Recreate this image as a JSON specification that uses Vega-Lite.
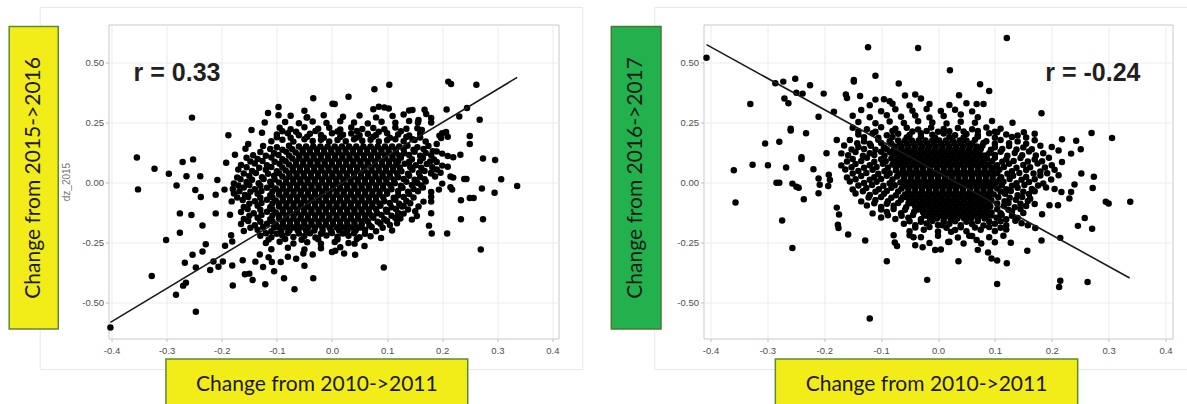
{
"$schema": "https://vega.github.io/schema/vega-lite/v6.json",
"background": "white",
"padding": {"left": 7.5, "top": 5.5, "right": 0, "bottom": 0},
"bounds": "flush",
"spacing": 145,
"config": {
 "view": {"stroke": "#c8c8c8", "strokeWidth": 1},
 "axis": {"grid": true, "gridColor": "#ebebeb", "gridWidth": 1, "domain": false, "ticks": true, "tickColor": "#bdbdbd", "tickSize": 3, "labelFont": "Liberation Sans", "labelFontSize": 9.5, "labelColor": "#4d4d4d", "titleFont": "Liberation Sans", "titleFontWeight": "normal", "titleFontSize": 10, "titleColor": "#777777"},
 "axisX": {"labelPadding": 4},
 "axisY": {"labelPadding": 2}
},
"datasets": {
 "fitL": [{"x": -0.402, "y": -0.583}, {"x": 0.336, "y": 0.4375}],
 "fitR": [{"x": -0.407, "y": 0.574}, {"x": 0.337, "y": -0.398}],
 "left": [
{"x":-0.402,"y":-0.604},{"x":-0.354,"y":0.104},{"x":-0.352,"y":-0.029},{"x":-0.322,"y":0.057},{"x":-0.327,"y":-0.39},{"x":-0.301,"y":-0.24},{"x":-0.296,"y":0.036},{"x":-0.282,"y":-0.013},{"x":-0.283,"y":-0.468},{"x":-0.271,"y":0.085},{"x":-0.264,"y":0.026},{"x":-0.254,"y":0.27},{"x":-0.252,"y":0.096},{"x":-0.248,"y":-0.032},{"x":-0.239,"y":0.026},{"x":-0.238,"y":-0.061},{"x":-0.276,"y":-0.129},{"x":-0.255,"y":-0.136},{"x":-0.276,"y":-0.21},{"x":-0.235,"y":-0.179},{"x":-0.229,"y":-0.258},{"x":-0.235,"y":-0.288},{"x":-0.253,"y":-0.301},{"x":-0.267,"y":-0.335},{"x":-0.247,"y":-0.354},{"x":-0.265,"y":-0.418},{"x":-0.27,"y":-0.43},{"x":-0.247,"y":-0.539},{"x":-0.215,"y":-0.329},{"x":-0.221,"y":-0.365},{"x":-0.206,"y":-0.351},{"x":-0.198,"y":-0.329},{"x":-0.211,"y":-0.129},{"x":-0.211,"y":-0.051},{"x":-0.208,"y":0.01},{"x":-0.194,"y":-0.264},{"x":-0.181,"y":-0.346},{"x":-0.18,"y":-0.429},{"x":-0.188,"y":0.197},{"x":-0.192,"y":0.082},{"x":-0.181,"y":-0.246},{"x":-0.183,"y":-0.22},{"x":-0.195,"y":-0.03},{"x":-0.185,"y":-0.135},{"x":-0.146,"y":0.218},{"x":-0.157,"y":0.14},{"x":-0.176,"y":0.115},{"x":-0.152,"y":0.16},{"x":-0.127,"y":0.207},{"x":-0.116,"y":0.289},{"x":-0.097,"y":0.314},{"x":-0.122,"y":0.25},{"x":-0.097,"y":0.28},{"x":-0.05,"y":0.299},{"x":-0.034,"y":0.351},{"x":0.001,"y":0.328},{"x":-0.046,"y":0.27},{"x":-0.121,"y":-0.424},{"x":-0.068,"y":-0.445},{"x":-0.034,"y":-0.399},{"x":-0.087,"y":-0.399},{"x":-0.144,"y":-0.407},{"x":-0.15,"y":-0.38},{"x":-0.158,"y":-0.383},{"x":-0.162,"y":-0.324},{"x":-0.139,"y":-0.33},{"x":-0.131,"y":-0.3},{"x":-0.109,"y":-0.332},{"x":-0.093,"y":-0.332},{"x":-0.105,"y":-0.37},{"x":-0.08,"y":-0.31},{"x":-0.052,"y":-0.296},{"x":-0.035,"y":-0.3},{"x":0.0,"y":-0.29},
{"x":0.336,"y":-0.015},{"x":0.307,"y":0.013},{"x":0.295,"y":-0.043},{"x":0.296,"y":0.093},{"x":0.274,"y":0.1},{"x":0.27,"y":-0.279},{"x":0.274,"y":-0.153},{"x":0.272,"y":-0.025},{"x":0.268,"y":0.261},{"x":0.262,"y":0.407},{"x":0.211,"y":0.42},{"x":0.216,"y":0.41},{"x":0.245,"y":0.31},{"x":0.231,"y":0.275},{"x":0.208,"y":0.304},{"x":0.25,"y":0.193},{"x":0.25,"y":0.16},{"x":0.24,"y":0.014},{"x":0.244,"y":0.014},{"x":0.25,"y":-0.065},{"x":0.257,"y":-0.065},{"x":0.234,"y":-0.074},{"x":0.234,"y":-0.153},{"x":0.209,"y":-0.213},{"x":0.181,"y":-0.213},{"x":0.176,"y":-0.18},{"x":0.18,"y":-0.128},{"x":0.094,"y":-0.354},{"x":0.042,"y":-0.301},{"x":0.022,"y":-0.296},{"x":0.006,"y":-0.285},{"x":0.059,"y":-0.265},{"x":0.041,"y":-0.255},{"x":0.089,"y":-0.232},{"x":0.104,"y":0.407},{"x":0.077,"y":0.388},{"x":0.03,"y":0.357},{"x":0.005,"y":0.327},{"x":0.085,"y":0.315},{"x":0.095,"y":0.312},{"x":0.103,"y":0.308},{"x":0.075,"y":0.305},{"x":0.168,"y":0.303},{"x":0.171,"y":0.285},{"x":0.18,"y":0.25},{"x":0.14,"y":0.3},{"x":0.146,"y":0.302},{"x":0.156,"y":0.25},{"x":0.2,"y":0.205},{"x":0.207,"y":0.21},{"x":0.195,"y":0.195},{"x":0.21,"y":0.19},
{"x":0.18,"y":0.268},{"x":0.157,"y":0.26},{"x":0.163,"y":0.218},{"x":0.146,"y":0.18},{"x":0.198,"y":0.185},{"x":0.19,"y":0.16},{"x":0.183,"y":0.13},{"x":0.2,"y":0.12},{"x":0.21,"y":0.11},{"x":0.22,"y":0.105},{"x":0.233,"y":0.115},{"x":0.19,"y":0.085},{"x":0.2,"y":0.07},{"x":0.21,"y":0.065},{"x":0.215,"y":0.025},{"x":0.22,"y":0.02},{"x":0.18,"y":0.04},{"x":0.187,"y":0.025},{"x":0.197,"y":0.04},{"x":0.215,"y":-0.02},{"x":0.218,"y":-0.03},{"x":0.2,"y":-0.005},{"x":0.194,"y":-0.03},{"x":0.18,"y":-0.04},{"x":0.18,"y":-0.06},{"x":0.18,"y":-0.08},{"x":0.166,"y":-0.08},{"x":0.157,"y":-0.1},{"x":0.151,"y":-0.12},{"x":0.154,"y":-0.14},{"x":0.145,"y":-0.155},{"x":0.127,"y":-0.1},{"x":0.13,"y":-0.13},{"x":0.124,"y":-0.15},{"x":0.118,"y":-0.17},{"x":0.109,"y":-0.2},
{"x":-0.11,"y":0.172},{"x":-0.09,"y":0.178},{"x":-0.07,"y":0.17},{"x":-0.05,"y":0.18},{"x":-0.035,"y":0.173},{"x":-0.02,"y":0.178},{"x":-0.005,"y":0.171},{"x":0.01,"y":0.177},{"x":0.025,"y":0.172},{"x":0.04,"y":0.18},{"x":0.055,"y":0.174},{"x":0.07,"y":0.178},{"x":0.085,"y":0.171},{"x":0.1,"y":0.176},{"x":0.115,"y":0.18},{"x":0.13,"y":0.172},{"x":0.15,"y":0.177},{"x":0.17,"y":0.171},
{"x":-0.1,"y":0.2},{"x":-0.08,"y":0.205},{"x":-0.06,"y":0.197},{"x":-0.04,"y":0.203},{"x":-0.02,"y":0.198},{"x":0.0,"y":0.205},{"x":0.02,"y":0.199},{"x":0.035,"y":0.204},{"x":0.05,"y":0.197},{"x":0.065,"y":0.203},{"x":0.08,"y":0.198},{"x":0.1,"y":0.205},{"x":0.12,"y":0.2},{"x":0.14,"y":0.196},{"x":0.16,"y":0.204},
{"x":-0.095,"y":0.228},{"x":-0.075,"y":0.222},{"x":-0.05,"y":0.23},{"x":-0.025,"y":0.224},{"x":-0.005,"y":0.228},{"x":0.015,"y":0.221},{"x":0.035,"y":0.229},{"x":0.055,"y":0.223},{"x":0.075,"y":0.227},{"x":0.095,"y":0.222},{"x":0.115,"y":0.229},{"x":0.135,"y":0.224},{"x":0.155,"y":0.226},
{"x":-0.085,"y":0.252},{"x":-0.06,"y":0.247},{"x":-0.035,"y":0.254},{"x":-0.01,"y":0.248},{"x":0.015,"y":0.255},{"x":0.04,"y":0.25},{"x":0.065,"y":0.246},{"x":0.09,"y":0.253},{"x":0.115,"y":0.249},{"x":0.14,"y":0.256},
{"x":-0.075,"y":0.278},{"x":-0.045,"y":0.272},{"x":-0.015,"y":0.28},{"x":0.02,"y":0.274},{"x":0.05,"y":0.279},{"x":0.08,"y":0.271},{"x":0.11,"y":0.277},{"x":0.13,"y":0.283},
{"x":-0.1,"y":0.188},{"x":-0.075,"y":0.186},{"x":-0.045,"y":0.19},{"x":-0.015,"y":0.186},{"x":0.015,"y":0.189},{"x":0.045,"y":0.187},{"x":0.075,"y":0.19},{"x":0.105,"y":0.186},{"x":0.135,"y":0.189},{"x":0.16,"y":0.187},
{"x":-0.09,"y":0.213},{"x":-0.065,"y":0.211},{"x":-0.03,"y":0.214},{"x":0.01,"y":0.212},{"x":0.045,"y":0.214},{"x":0.085,"y":0.211},{"x":0.125,"y":0.213},
{"x":-0.06,"y":0.15},{"x":-0.047,"y":0.15},{"x":-0.034,"y":0.15},{"x":-0.021,"y":0.15},{"x":-0.008,"y":0.15},{"x":0.005,"y":0.15},{"x":0.018,"y":0.15},{"x":0.031,"y":0.15},{"x":0.044,"y":0.15},{"x":0.057,"y":0.15},{"x":0.07,"y":0.15},{"x":0.083,"y":0.15},{"x":0.096,"y":0.15},{"x":0.109,"y":0.15},{"x":0.122,"y":0.15},
{"x":-0.066,"y":0.125},{"x":-0.053,"y":0.125},{"x":-0.04,"y":0.125},{"x":-0.027,"y":0.125},{"x":-0.014,"y":0.125},{"x":-0.001,"y":0.125},{"x":0.012,"y":0.125},{"x":0.025,"y":0.125},{"x":0.038,"y":0.125},{"x":0.051,"y":0.125},{"x":0.064,"y":0.125},{"x":0.077,"y":0.125},{"x":0.09,"y":0.125},{"x":0.103,"y":0.125},{"x":0.116,"y":0.125},
{"x":-0.072,"y":0.1},{"x":-0.059,"y":0.1},{"x":-0.046,"y":0.1},{"x":-0.033,"y":0.1},{"x":-0.02,"y":0.1},{"x":-0.007,"y":0.1},{"x":0.006,"y":0.1},{"x":0.019,"y":0.1},{"x":0.032,"y":0.1},{"x":0.045,"y":0.1},{"x":0.058,"y":0.1},{"x":0.071,"y":0.1},{"x":0.084,"y":0.1},{"x":0.097,"y":0.1},{"x":0.11,"y":0.1},
{"x":-0.078,"y":0.075},{"x":-0.065,"y":0.075},{"x":-0.052,"y":0.075},{"x":-0.039,"y":0.075},{"x":-0.026,"y":0.075},{"x":-0.013,"y":0.075},{"x":0.0,"y":0.075},{"x":0.013,"y":0.075},{"x":0.026,"y":0.075},{"x":0.039,"y":0.075},{"x":0.052,"y":0.075},{"x":0.065,"y":0.075},{"x":0.078,"y":0.075},{"x":0.091,"y":0.075},{"x":0.104,"y":0.075},{"x":0.117,"y":0.075},
{"x":-0.084,"y":0.05},{"x":-0.071,"y":0.05},{"x":-0.058,"y":0.05},{"x":-0.045,"y":0.05},{"x":-0.032,"y":0.05},{"x":-0.019,"y":0.05},{"x":-0.006,"y":0.05},{"x":0.007,"y":0.05},{"x":0.02,"y":0.05},{"x":0.033,"y":0.05},{"x":0.046,"y":0.05},{"x":0.059,"y":0.05},{"x":0.072,"y":0.05},{"x":0.085,"y":0.05},{"x":0.098,"y":0.05},{"x":0.111,"y":0.05},
{"x":-0.09,"y":0.025},{"x":-0.077,"y":0.025},{"x":-0.064,"y":0.025},{"x":-0.051,"y":0.025},{"x":-0.038,"y":0.025},{"x":-0.025,"y":0.025},{"x":-0.012,"y":0.025},{"x":0.001,"y":0.025},{"x":0.014,"y":0.025},{"x":0.027,"y":0.025},{"x":0.04,"y":0.025},{"x":0.053,"y":0.025},{"x":0.066,"y":0.025},{"x":0.079,"y":0.025},{"x":0.092,"y":0.025},{"x":0.105,"y":0.025},
{"x":-0.096,"y":0.0},{"x":-0.083,"y":0.0},{"x":-0.07,"y":0.0},{"x":-0.057,"y":0.0},{"x":-0.044,"y":0.0},{"x":-0.031,"y":0.0},{"x":-0.018,"y":0.0},{"x":-0.005,"y":0.0},{"x":0.008,"y":0.0},{"x":0.021,"y":0.0},{"x":0.034,"y":0.0},{"x":0.047,"y":0.0},{"x":0.06,"y":0.0},{"x":0.073,"y":0.0},{"x":0.086,"y":0.0},{"x":0.099,"y":0.0},
{"x":-0.102,"y":-0.025},{"x":-0.089,"y":-0.025},{"x":-0.076,"y":-0.025},{"x":-0.063,"y":-0.025},{"x":-0.05,"y":-0.025},{"x":-0.037,"y":-0.025},{"x":-0.024,"y":-0.025},{"x":-0.011,"y":-0.025},{"x":0.002,"y":-0.025},{"x":0.015,"y":-0.025},{"x":0.028,"y":-0.025},{"x":0.041,"y":-0.025},{"x":0.054,"y":-0.025},{"x":0.067,"y":-0.025},{"x":0.08,"y":-0.025},{"x":0.093,"y":-0.025},
{"x":-0.096,"y":-0.05},{"x":-0.083,"y":-0.05},{"x":-0.07,"y":-0.05},{"x":-0.057,"y":-0.05},{"x":-0.044,"y":-0.05},{"x":-0.031,"y":-0.05},{"x":-0.018,"y":-0.05},{"x":-0.005,"y":-0.05},{"x":0.008,"y":-0.05},{"x":0.021,"y":-0.05},{"x":0.034,"y":-0.05},{"x":0.047,"y":-0.05},{"x":0.06,"y":-0.05},{"x":0.073,"y":-0.05},{"x":0.086,"y":-0.05},
{"x":-0.102,"y":-0.075},{"x":-0.089,"y":-0.075},{"x":-0.076,"y":-0.075},{"x":-0.063,"y":-0.075},{"x":-0.05,"y":-0.075},{"x":-0.037,"y":-0.075},{"x":-0.024,"y":-0.075},{"x":-0.011,"y":-0.075},{"x":0.002,"y":-0.075},{"x":0.015,"y":-0.075},{"x":0.028,"y":-0.075},{"x":0.041,"y":-0.075},{"x":0.054,"y":-0.075},{"x":0.067,"y":-0.075},{"x":0.08,"y":-0.075},
{"x":-0.096,"y":-0.1},{"x":-0.083,"y":-0.1},{"x":-0.07,"y":-0.1},{"x":-0.057,"y":-0.1},{"x":-0.044,"y":-0.1},{"x":-0.031,"y":-0.1},{"x":-0.018,"y":-0.1},{"x":-0.005,"y":-0.1},{"x":0.008,"y":-0.1},{"x":0.021,"y":-0.1},{"x":0.034,"y":-0.1},{"x":0.047,"y":-0.1},{"x":0.06,"y":-0.1},{"x":0.073,"y":-0.1},
{"x":-0.102,"y":-0.125},{"x":-0.089,"y":-0.125},{"x":-0.076,"y":-0.125},{"x":-0.063,"y":-0.125},{"x":-0.05,"y":-0.125},{"x":-0.037,"y":-0.125},{"x":-0.024,"y":-0.125},{"x":-0.011,"y":-0.125},{"x":0.002,"y":-0.125},{"x":0.015,"y":-0.125},{"x":0.028,"y":-0.125},{"x":0.041,"y":-0.125},{"x":0.054,"y":-0.125},{"x":0.067,"y":-0.125},
{"x":-0.096,"y":-0.15},{"x":-0.083,"y":-0.15},{"x":-0.07,"y":-0.15},{"x":-0.057,"y":-0.15},{"x":-0.044,"y":-0.15},{"x":-0.031,"y":-0.15},{"x":-0.018,"y":-0.15},{"x":-0.005,"y":-0.15},{"x":0.008,"y":-0.15},{"x":0.021,"y":-0.15},{"x":0.034,"y":-0.15},{"x":0.047,"y":-0.15},{"x":0.06,"y":-0.15},
{"x":-0.102,"y":-0.175},{"x":-0.089,"y":-0.175},{"x":-0.076,"y":-0.175},{"x":-0.063,"y":-0.175},{"x":-0.05,"y":-0.175},{"x":-0.037,"y":-0.175},{"x":-0.024,"y":-0.175},{"x":-0.011,"y":-0.175},{"x":0.002,"y":-0.175},{"x":0.015,"y":-0.175},{"x":0.028,"y":-0.175},{"x":0.041,"y":-0.175},{"x":0.054,"y":-0.175},
{"x":-0.092,"y":-0.2},{"x":-0.077,"y":-0.2},{"x":-0.062,"y":-0.2},{"x":-0.047,"y":-0.2},{"x":-0.032,"y":-0.2},{"x":-0.017,"y":-0.2},{"x":-0.002,"y":-0.2},{"x":0.013,"y":-0.2},{"x":0.028,"y":-0.2},{"x":0.043,"y":-0.2},
{"x":-0.0535,"y":0.1375},{"x":-0.0405,"y":0.1375},{"x":-0.0275,"y":0.1375},{"x":-0.0145,"y":0.1375},{"x":-0.0015,"y":0.1375},{"x":0.0115,"y":0.1375},{"x":0.0245,"y":0.1375},{"x":0.0375,"y":0.1375},{"x":0.0505,"y":0.1375},{"x":0.0635,"y":0.1375},{"x":0.0765,"y":0.1375},{"x":0.0895,"y":0.1375},{"x":0.1025,"y":0.1375},{"x":0.1155,"y":0.1375},
{"x":-0.0595,"y":0.1125},{"x":-0.0465,"y":0.1125},{"x":-0.0335,"y":0.1125},{"x":-0.0205,"y":0.1125},{"x":-0.0075,"y":0.1125},{"x":0.0055,"y":0.1125},{"x":0.0185,"y":0.1125},{"x":0.0315,"y":0.1125},{"x":0.0445,"y":0.1125},{"x":0.0575,"y":0.1125},{"x":0.0705,"y":0.1125},{"x":0.0835,"y":0.1125},{"x":0.0965,"y":0.1125},{"x":0.1095,"y":0.1125},
{"x":-0.0655,"y":0.0875},{"x":-0.0525,"y":0.0875},{"x":-0.0395,"y":0.0875},{"x":-0.0265,"y":0.0875},{"x":-0.0135,"y":0.0875},{"x":-0.0005,"y":0.0875},{"x":0.0125,"y":0.0875},{"x":0.0255,"y":0.0875},{"x":0.0385,"y":0.0875},{"x":0.0515,"y":0.0875},{"x":0.0645,"y":0.0875},{"x":0.0775,"y":0.0875},{"x":0.0905,"y":0.0875},{"x":0.1035,"y":0.0875},{"x":0.1165,"y":0.0875},
{"x":-0.0715,"y":0.0625},{"x":-0.0585,"y":0.0625},{"x":-0.0455,"y":0.0625},{"x":-0.0325,"y":0.0625},{"x":-0.0195,"y":0.0625},{"x":-0.0065,"y":0.0625},{"x":0.0065,"y":0.0625},{"x":0.0195,"y":0.0625},{"x":0.0325,"y":0.0625},{"x":0.0455,"y":0.0625},{"x":0.0585,"y":0.0625},{"x":0.0715,"y":0.0625},{"x":0.0845,"y":0.0625},{"x":0.0975,"y":0.0625},{"x":0.1105,"y":0.0625},
{"x":-0.0775,"y":0.0375},{"x":-0.0645,"y":0.0375},{"x":-0.0515,"y":0.0375},{"x":-0.0385,"y":0.0375},{"x":-0.0255,"y":0.0375},{"x":-0.0125,"y":0.0375},{"x":0.0005,"y":0.0375},{"x":0.0135,"y":0.0375},{"x":0.0265,"y":0.0375},{"x":0.0395,"y":0.0375},{"x":0.0525,"y":0.0375},{"x":0.0655,"y":0.0375},{"x":0.0785,"y":0.0375},{"x":0.0915,"y":0.0375},{"x":0.1045,"y":0.0375},
{"x":-0.0835,"y":0.0125},{"x":-0.0705,"y":0.0125},{"x":-0.0575,"y":0.0125},{"x":-0.0445,"y":0.0125},{"x":-0.0315,"y":0.0125},{"x":-0.0185,"y":0.0125},{"x":-0.0055,"y":0.0125},{"x":0.0075,"y":0.0125},{"x":0.0205,"y":0.0125},{"x":0.0335,"y":0.0125},{"x":0.0465,"y":0.0125},{"x":0.0595,"y":0.0125},{"x":0.0725,"y":0.0125},{"x":0.0855,"y":0.0125},{"x":0.0985,"y":0.0125},
{"x":-0.0895,"y":-0.0125},{"x":-0.0765,"y":-0.0125},{"x":-0.0635,"y":-0.0125},{"x":-0.0505,"y":-0.0125},{"x":-0.0375,"y":-0.0125},{"x":-0.0245,"y":-0.0125},{"x":-0.0115,"y":-0.0125},{"x":0.0015,"y":-0.0125},{"x":0.0145,"y":-0.0125},{"x":0.0275,"y":-0.0125},{"x":0.0405,"y":-0.0125},{"x":0.0535,"y":-0.0125},{"x":0.0665,"y":-0.0125},{"x":0.0795,"y":-0.0125},{"x":0.0925,"y":-0.0125},
{"x":-0.0955,"y":-0.0375},{"x":-0.0825,"y":-0.0375},{"x":-0.0695,"y":-0.0375},{"x":-0.0565,"y":-0.0375},{"x":-0.0435,"y":-0.0375},{"x":-0.0305,"y":-0.0375},{"x":-0.0175,"y":-0.0375},{"x":-0.0045,"y":-0.0375},{"x":0.0085,"y":-0.0375},{"x":0.0215,"y":-0.0375},{"x":0.0345,"y":-0.0375},{"x":0.0475,"y":-0.0375},{"x":0.0605,"y":-0.0375},{"x":0.0735,"y":-0.0375},{"x":0.0865,"y":-0.0375},
{"x":-0.0895,"y":-0.0625},{"x":-0.0765,"y":-0.0625},{"x":-0.0635,"y":-0.0625},{"x":-0.0505,"y":-0.0625},{"x":-0.0375,"y":-0.0625},{"x":-0.0245,"y":-0.0625},{"x":-0.0115,"y":-0.0625},{"x":0.0015,"y":-0.0625},{"x":0.0145,"y":-0.0625},{"x":0.0275,"y":-0.0625},{"x":0.0405,"y":-0.0625},{"x":0.0535,"y":-0.0625},{"x":0.0665,"y":-0.0625},{"x":0.0795,"y":-0.0625},
{"x":-0.0955,"y":-0.0875},{"x":-0.0825,"y":-0.0875},{"x":-0.0695,"y":-0.0875},{"x":-0.0565,"y":-0.0875},{"x":-0.0435,"y":-0.0875},{"x":-0.0305,"y":-0.0875},{"x":-0.0175,"y":-0.0875},{"x":-0.0045,"y":-0.0875},{"x":0.0085,"y":-0.0875},{"x":0.0215,"y":-0.0875},{"x":0.0345,"y":-0.0875},{"x":0.0475,"y":-0.0875},{"x":0.0605,"y":-0.0875},{"x":0.0735,"y":-0.0875},
{"x":-0.0895,"y":-0.1125},{"x":-0.0765,"y":-0.1125},{"x":-0.0635,"y":-0.1125},{"x":-0.0505,"y":-0.1125},{"x":-0.0375,"y":-0.1125},{"x":-0.0245,"y":-0.1125},{"x":-0.0115,"y":-0.1125},{"x":0.0015,"y":-0.1125},{"x":0.0145,"y":-0.1125},{"x":0.0275,"y":-0.1125},{"x":0.0405,"y":-0.1125},{"x":0.0535,"y":-0.1125},{"x":0.0665,"y":-0.1125},
{"x":-0.0955,"y":-0.1375},{"x":-0.0825,"y":-0.1375},{"x":-0.0695,"y":-0.1375},{"x":-0.0565,"y":-0.1375},{"x":-0.0435,"y":-0.1375},{"x":-0.0305,"y":-0.1375},{"x":-0.0175,"y":-0.1375},{"x":-0.0045,"y":-0.1375},{"x":0.0085,"y":-0.1375},{"x":0.0215,"y":-0.1375},{"x":0.0345,"y":-0.1375},{"x":0.0475,"y":-0.1375},{"x":0.0605,"y":-0.1375},
{"x":-0.0895,"y":-0.1625},{"x":-0.0765,"y":-0.1625},{"x":-0.0635,"y":-0.1625},{"x":-0.0505,"y":-0.1625},{"x":-0.0375,"y":-0.1625},{"x":-0.0245,"y":-0.1625},{"x":-0.0115,"y":-0.1625},{"x":0.0015,"y":-0.1625},{"x":0.0145,"y":-0.1625},{"x":0.0275,"y":-0.1625},{"x":0.0405,"y":-0.1625},{"x":0.0535,"y":-0.1625},
{"x":-0.0955,"y":-0.1875},{"x":-0.0825,"y":-0.1875},{"x":-0.0695,"y":-0.1875},{"x":-0.0565,"y":-0.1875},{"x":-0.0435,"y":-0.1875},{"x":-0.0305,"y":-0.1875},{"x":-0.0175,"y":-0.1875},{"x":-0.0045,"y":-0.1875},{"x":0.0085,"y":-0.1875},{"x":0.0215,"y":-0.1875},{"x":0.0345,"y":-0.1875},{"x":0.0475,"y":-0.1875},
{"x":-0.078,"y":0.153},{"x":-0.1,"y":0.147},{"x":-0.125,"y":0.152},{"x":-0.083,"y":0.128},{"x":-0.105,"y":0.122},{"x":-0.13,"y":0.127},{"x":-0.09,"y":0.097},{"x":-0.11,"y":0.104},{"x":-0.135,"y":0.098},{"x":-0.155,"y":0.103},{"x":-0.095,"y":0.078},{"x":-0.118,"y":0.072},{"x":-0.14,"y":0.079},{"x":-0.165,"y":0.073},{"x":-0.1,"y":0.047},{"x":-0.12,"y":0.053},{"x":-0.145,"y":0.048},{"x":-0.17,"y":0.054},{"x":-0.105,"y":0.028},{"x":-0.127,"y":0.022},{"x":-0.15,"y":0.027},{"x":-0.172,"y":0.021},{"x":-0.112,"y":0.003},{"x":-0.133,"y":-0.003},{"x":-0.155,"y":0.002},{"x":-0.178,"y":-0.004},{"x":-0.118,"y":-0.022},{"x":-0.14,"y":-0.028},{"x":-0.16,"y":-0.021},{"x":-0.18,"y":-0.027},{"x":-0.112,"y":-0.053},{"x":-0.135,"y":-0.047},{"x":-0.158,"y":-0.052},{"x":-0.178,"y":-0.046},{"x":-0.118,"y":-0.072},{"x":-0.14,"y":-0.078},{"x":-0.162,"y":-0.073},{"x":-0.182,"y":-0.079},{"x":-0.112,"y":-0.103},{"x":-0.135,"y":-0.097},{"x":-0.16,"y":-0.102},{"x":-0.118,"y":-0.122},{"x":-0.142,"y":-0.128},{"x":-0.165,"y":-0.123},{"x":-0.112,"y":-0.153},{"x":-0.135,"y":-0.147},{"x":-0.16,"y":-0.152},{"x":-0.118,"y":-0.172},{"x":-0.14,"y":-0.178},{"x":-0.165,"y":-0.173},{"x":-0.11,"y":-0.203},{"x":-0.135,"y":-0.197},{"x":-0.16,"y":-0.202},
{"x":-0.072,"y":0.138},{"x":-0.09,"y":0.136},{"x":-0.112,"y":0.139},{"x":-0.078,"y":0.112},{"x":-0.097,"y":0.114},{"x":-0.12,"y":0.111},{"x":-0.143,"y":0.113},{"x":-0.084,"y":0.088},{"x":-0.104,"y":0.086},{"x":-0.126,"y":0.089},{"x":-0.148,"y":0.087},{"x":-0.09,"y":0.062},{"x":-0.11,"y":0.064},{"x":-0.132,"y":0.061},{"x":-0.155,"y":0.063},{"x":-0.096,"y":0.038},{"x":-0.116,"y":0.036},{"x":-0.138,"y":0.039},{"x":-0.16,"y":0.037},{"x":-0.104,"y":0.012},{"x":-0.124,"y":0.014},{"x":-0.145,"y":0.011},{"x":-0.166,"y":0.013},{"x":-0.11,"y":-0.012},{"x":-0.13,"y":-0.014},{"x":-0.15,"y":-0.011},{"x":-0.17,"y":-0.013},{"x":-0.108,"y":-0.038},{"x":-0.128,"y":-0.036},{"x":-0.148,"y":-0.039},{"x":-0.168,"y":-0.037},{"x":-0.108,"y":-0.062},{"x":-0.13,"y":-0.064},{"x":-0.152,"y":-0.061},{"x":-0.172,"y":-0.063},{"x":-0.108,"y":-0.088},{"x":-0.128,"y":-0.086},{"x":-0.15,"y":-0.089},{"x":-0.108,"y":-0.112},{"x":-0.13,"y":-0.114},{"x":-0.153,"y":-0.111},{"x":-0.108,"y":-0.138},{"x":-0.128,"y":-0.136},{"x":-0.15,"y":-0.139},{"x":-0.108,"y":-0.162},{"x":-0.13,"y":-0.164},{"x":-0.152,"y":-0.161},{"x":-0.105,"y":-0.188},{"x":-0.125,"y":-0.186},{"x":-0.148,"y":-0.189},
{"x":0.137,"y":0.153},{"x":0.155,"y":0.147},{"x":0.175,"y":0.152},{"x":0.131,"y":0.122},{"x":0.15,"y":0.128},{"x":0.17,"y":0.123},{"x":0.19,"y":0.129},{"x":0.125,"y":0.103},{"x":0.145,"y":0.097},{"x":0.165,"y":0.102},{"x":0.185,"y":0.096},{"x":0.132,"y":0.078},{"x":0.152,"y":0.072},{"x":0.172,"y":0.077},{"x":0.126,"y":0.047},{"x":0.146,"y":0.053},{"x":0.168,"y":0.048},{"x":0.19,"y":0.054},{"x":0.12,"y":0.022},{"x":0.14,"y":0.028},{"x":0.16,"y":0.023},{"x":0.114,"y":-0.003},{"x":0.135,"y":0.003},{"x":0.155,"y":-0.002},{"x":0.17,"y":0.004},{"x":0.108,"y":-0.028},{"x":0.128,"y":-0.022},{"x":0.148,"y":-0.027},{"x":0.165,"y":-0.021},{"x":0.1,"y":-0.047},{"x":0.12,"y":-0.053},{"x":0.14,"y":-0.048},{"x":0.095,"y":-0.078},{"x":0.115,"y":-0.072},{"x":0.135,"y":-0.077},{"x":0.088,"y":-0.097},{"x":0.108,"y":-0.103},{"x":0.13,"y":-0.098},{"x":0.082,"y":-0.128},{"x":0.1,"y":-0.122},{"x":0.12,"y":-0.127},{"x":0.075,"y":-0.147},{"x":0.095,"y":-0.153},{"x":0.115,"y":-0.148},{"x":0.068,"y":-0.178},{"x":0.088,"y":-0.172},{"x":0.105,"y":-0.177},{"x":0.06,"y":-0.197},{"x":0.08,"y":-0.203},
{"x":0.13,"y":0.138},{"x":0.148,"y":0.136},{"x":0.166,"y":0.139},{"x":0.122,"y":0.112},{"x":0.14,"y":0.114},{"x":0.16,"y":0.111},{"x":0.18,"y":0.113},{"x":0.12,"y":0.088},{"x":0.14,"y":0.086},{"x":0.16,"y":0.089},{"x":0.178,"y":0.087},{"x":0.123,"y":0.062},{"x":0.142,"y":0.064},{"x":0.162,"y":0.061},{"x":0.182,"y":0.063},{"x":0.118,"y":0.038},{"x":0.138,"y":0.036},{"x":0.158,"y":0.039},{"x":0.18,"y":0.037},{"x":0.112,"y":0.012},{"x":0.13,"y":0.014},{"x":0.15,"y":0.011},{"x":0.168,"y":0.013},{"x":0.106,"y":-0.012},{"x":0.125,"y":-0.014},{"x":0.145,"y":-0.011},{"x":0.162,"y":-0.013},{"x":0.1,"y":-0.038},{"x":0.12,"y":-0.036},{"x":0.138,"y":-0.039},{"x":0.156,"y":-0.037},{"x":0.093,"y":-0.062},{"x":0.112,"y":-0.064},{"x":0.13,"y":-0.061},{"x":0.148,"y":-0.063},{"x":0.086,"y":-0.088},{"x":0.105,"y":-0.086},{"x":0.122,"y":-0.089},{"x":0.142,"y":-0.087},{"x":0.08,"y":-0.112},{"x":0.098,"y":-0.114},{"x":0.116,"y":-0.111},{"x":0.138,"y":-0.113},{"x":0.072,"y":-0.138},{"x":0.09,"y":-0.136},{"x":0.108,"y":-0.139},{"x":0.065,"y":-0.162},{"x":0.083,"y":-0.164},{"x":0.1,"y":-0.161},{"x":0.052,"y":-0.188},{"x":0.072,"y":-0.186},{"x":0.092,"y":-0.189},
{"x":-0.13,"y":-0.222},{"x":-0.11,"y":-0.228},{"x":-0.09,"y":-0.221},{"x":-0.07,"y":-0.227},{"x":-0.05,"y":-0.223},{"x":-0.03,"y":-0.229},{"x":-0.01,"y":-0.221},{"x":0.01,"y":-0.226},{"x":0.03,"y":-0.222},{"x":0.05,"y":-0.228},{"x":0.07,"y":-0.224},
{"x":-0.12,"y":-0.212},{"x":-0.1,"y":-0.214},{"x":-0.08,"y":-0.211},{"x":-0.06,"y":-0.213},{"x":-0.04,"y":-0.212},{"x":-0.02,"y":-0.214},{"x":0.0,"y":-0.211},{"x":0.02,"y":-0.213},{"x":0.04,"y":-0.212},{"x":0.06,"y":-0.214},
{"x":-0.115,"y":-0.238},{"x":-0.085,"y":-0.236},{"x":-0.055,"y":-0.239},{"x":-0.025,"y":-0.237},{"x":0.01,"y":-0.238},{"x":0.045,"y":-0.236},
{"x":-0.12,"y":-0.252},{"x":-0.095,"y":-0.247},{"x":-0.07,"y":-0.254},{"x":-0.045,"y":-0.249},{"x":-0.02,"y":-0.255},{"x":0.005,"y":-0.248},{"x":0.03,"y":-0.252},
{"x":-0.11,"y":-0.278},{"x":-0.08,"y":-0.272},{"x":-0.05,"y":-0.279},{"x":-0.02,"y":-0.274},{"x":0.015,"y":-0.27},
{"x":-0.115,"y":-0.312},{"x":-0.065,"y":-0.318},{"x":-0.125,"y":-0.352},{"x":-0.05,"y":-0.347}
 ],
 "right": [
{"x":-0.407,"y":0.519},{"x":-0.123,"y":0.563},{"x":-0.035,"y":0.56},{"x":-0.11,"y":0.444},{"x":-0.069,"y":0.412},{"x":-0.33,"y":0.327},{"x":-0.286,"y":0.413},{"x":-0.272,"y":0.42},{"x":-0.251,"y":0.432},{"x":-0.225,"y":0.405},{"x":-0.249,"y":0.374},{"x":-0.238,"y":0.37},{"x":-0.27,"y":0.35},{"x":-0.263,"y":0.33},{"x":-0.201,"y":0.37},{"x":-0.21,"y":0.274},{"x":-0.183,"y":0.294},{"x":-0.259,"y":0.224},{"x":-0.259,"y":0.216},{"x":-0.232,"y":0.205},{"x":-0.304,"y":0.162},{"x":-0.279,"y":0.169},{"x":-0.24,"y":0.105},{"x":-0.24,"y":0.098},{"x":-0.196,"y":0.122},{"x":-0.178,"y":0.177},{"x":-0.359,"y":0.051},{"x":-0.326,"y":0.074},{"x":-0.299,"y":0.072},{"x":-0.267,"y":0.062},{"x":-0.356,"y":-0.084},{"x":-0.284,"y":-0.001},{"x":-0.279,"y":-0.001},{"x":-0.256,"y":-0.005},{"x":-0.249,"y":-0.018},{"x":-0.245,"y":-0.022},{"x":-0.236,"y":-0.07},{"x":-0.274,"y":-0.159},{"x":-0.256,"y":-0.273},{"x":-0.219,"y":0.055},{"x":-0.21,"y":0.016},{"x":-0.208,"y":-0.01},{"x":-0.21,"y":-0.045},{"x":-0.192,"y":0.032},{"x":-0.19,"y":0.01},{"x":-0.193,"y":-0.015},{"x":-0.178,"y":-0.105},{"x":-0.174,"y":-0.134},{"x":-0.176,"y":-0.176},{"x":-0.175,"y":-0.19},{"x":-0.158,"y":-0.217},{"x":-0.128,"y":-0.242},{"x":-0.09,"y":-0.328},{"x":-0.12,"y":-0.567},{"x":-0.019,"y":-0.406},{"x":-0.078,"y":-0.22},{"x":-0.076,"y":-0.25},{"x":-0.072,"y":-0.265},{"x":-0.05,"y":-0.22},{"x":-0.043,"y":-0.228},{"x":-0.04,"y":-0.262},{"x":-0.027,"y":-0.27},{"x":-0.005,"y":-0.282},{"x":-0.148,"y":0.42},{"x":-0.148,"y":0.427},{"x":-0.162,"y":0.366},{"x":-0.16,"y":0.352},{"x":-0.137,"y":0.36},{"x":-0.11,"y":0.345},{"x":-0.095,"y":0.347},{"x":-0.085,"y":0.338},{"x":-0.058,"y":0.362},{"x":-0.04,"y":0.366},{"x":-0.03,"y":0.35},
{"x":0.121,"y":0.602},{"x":0.021,"y":0.467},{"x":0.074,"y":0.409},{"x":0.09,"y":0.381},{"x":0.037,"y":0.363},{"x":0.068,"y":0.327},{"x":0.08,"y":0.327},{"x":0.182,"y":0.288},{"x":0.131,"y":0.249},{"x":0.151,"y":0.209},{"x":0.104,"y":0.209},{"x":0.27,"y":0.206},{"x":0.306,"y":0.185},{"x":0.243,"y":0.174},{"x":0.251,"y":0.138},{"x":0.234,"y":0.12},{"x":0.218,"y":0.18},{"x":0.212,"y":0.133},{"x":0.218,"y":0.085},{"x":0.252,"y":0.037},{"x":0.274,"y":0.024},{"x":0.272,"y":-0.023},{"x":0.24,"y":-0.009},{"x":0.234,"y":-0.04},{"x":0.231,"y":-0.067},{"x":0.295,"y":-0.081},{"x":0.3,"y":-0.088},{"x":0.338,"y":-0.081},{"x":0.258,"y":-0.148},{"x":0.246,"y":-0.181},{"x":0.271,"y":-0.193},{"x":0.215,"y":-0.231},{"x":0.215,"y":-0.41},{"x":0.213,"y":-0.436},{"x":0.263,"y":-0.415},{"x":0.104,"y":-0.423},{"x":0.036,"y":-0.328},{"x":0.121,"y":-0.337},{"x":0.157,"y":-0.285},{"x":0.182,"y":-0.242},{"x":0.171,"y":-0.19},{"x":0.158,"y":-0.178},{"x":0.147,"y":-0.17},{"x":0.136,"y":-0.16},{"x":0.128,"y":-0.251},{"x":0.07,"y":-0.281},{"x":0.088,"y":-0.292},{"x":0.094,"y":-0.317},{"x":0.104,"y":-0.325},{"x":0.068,"y":-0.24},{"x":0.076,"y":-0.254},{"x":0.055,"y":-0.222},{"x":0.023,"y":-0.206},{"x":0.008,"y":-0.178},{"x":0.018,"y":-0.248},{"x":0.005,"y":-0.279},{"x":0.183,"y":-0.133},{"x":0.17,"y":-0.09},{"x":0.162,"y":-0.068},{"x":0.196,"y":-0.095},{"x":0.211,"y":-0.095},{"x":0.205,"y":-0.027},{"x":0.212,"y":0.03},{"x":0.217,"y":-0.04},{"x":0.199,"y":0.012},
{"x":-0.14,"y":0.2},{"x":-0.115,"y":0.205},{"x":-0.09,"y":0.197},{"x":-0.07,"y":0.203},{"x":-0.05,"y":0.198},{"x":-0.03,"y":0.205},{"x":-0.01,"y":0.199},{"x":0.01,"y":0.204},{"x":0.03,"y":0.197},{"x":0.05,"y":0.202},{"x":0.07,"y":0.198},{"x":0.09,"y":0.205},{"x":0.12,"y":0.2},{"x":0.14,"y":0.196},{"x":0.17,"y":0.203},
{"x":-0.15,"y":0.228},{"x":-0.125,"y":0.222},{"x":-0.1,"y":0.23},{"x":-0.075,"y":0.224},{"x":-0.055,"y":0.228},{"x":-0.035,"y":0.221},{"x":-0.012,"y":0.229},{"x":0.01,"y":0.223},{"x":0.035,"y":0.227},{"x":0.06,"y":0.222},{"x":0.085,"y":0.229},{"x":0.11,"y":0.224},
{"x":-0.14,"y":0.252},{"x":-0.11,"y":0.247},{"x":-0.085,"y":0.254},{"x":-0.06,"y":0.248},{"x":-0.035,"y":0.255},{"x":-0.01,"y":0.25},{"x":0.015,"y":0.246},{"x":0.04,"y":0.253},{"x":0.065,"y":0.249},{"x":0.095,"y":0.256},
{"x":-0.15,"y":0.278},{"x":-0.12,"y":0.272},{"x":-0.09,"y":0.28},{"x":-0.065,"y":0.274},{"x":-0.04,"y":0.279},{"x":-0.015,"y":0.271},{"x":0.01,"y":0.277},{"x":0.04,"y":0.283},{"x":0.07,"y":0.272},
{"x":-0.135,"y":0.302},{"x":-0.1,"y":0.297},{"x":-0.075,"y":0.305},{"x":-0.045,"y":0.299},{"x":-0.02,"y":0.306},{"x":0.005,"y":0.298},{"x":0.03,"y":0.303},{"x":0.06,"y":0.296},
{"x":-0.12,"y":0.322},{"x":-0.08,"y":0.328},{"x":-0.05,"y":0.321},{"x":-0.015,"y":0.327},{"x":0.02,"y":0.323},{"x":0.05,"y":0.33},
{"x":-0.13,"y":0.188},{"x":-0.105,"y":0.186},{"x":-0.08,"y":0.189},{"x":-0.055,"y":0.187},{"x":-0.03,"y":0.19},{"x":-0.005,"y":0.186},{"x":0.02,"y":0.189},{"x":0.045,"y":0.187},{"x":0.07,"y":0.19},{"x":0.1,"y":0.186},{"x":0.13,"y":0.189},{"x":0.155,"y":0.187},
{"x":-0.14,"y":0.213},{"x":-0.11,"y":0.211},{"x":-0.08,"y":0.214},{"x":-0.045,"y":0.212},{"x":-0.02,"y":0.214},{"x":0.0,"y":0.211},{"x":0.02,"y":0.213},{"x":0.045,"y":0.212},{"x":0.07,"y":0.214},{"x":0.1,"y":0.211},
{"x":-0.07,"y":0.175},{"x":-0.058,"y":0.175},{"x":-0.046,"y":0.175},{"x":-0.034,"y":0.175},{"x":-0.022,"y":0.175},{"x":-0.01,"y":0.175},{"x":0.002,"y":0.175},{"x":0.014,"y":0.175},{"x":0.026,"y":0.175},{"x":0.038,"y":0.175},{"x":0.05,"y":0.175},
{"x":-0.076,"y":0.15},{"x":-0.064,"y":0.15},{"x":-0.052,"y":0.15},{"x":-0.04,"y":0.15},{"x":-0.028,"y":0.15},{"x":-0.016,"y":0.15},{"x":-0.004,"y":0.15},{"x":0.008,"y":0.15},{"x":0.02,"y":0.15},{"x":0.032,"y":0.15},{"x":0.044,"y":0.15},{"x":0.056,"y":0.15},{"x":0.068,"y":0.15},
{"x":-0.084,"y":0.125},{"x":-0.072,"y":0.125},{"x":-0.06,"y":0.125},{"x":-0.048,"y":0.125},{"x":-0.036,"y":0.125},{"x":-0.024,"y":0.125},{"x":-0.012,"y":0.125},{"x":0.0,"y":0.125},{"x":0.012,"y":0.125},{"x":0.024,"y":0.125},{"x":0.036,"y":0.125},{"x":0.048,"y":0.125},{"x":0.06,"y":0.125},{"x":0.072,"y":0.125},
{"x":-0.082,"y":0.1},{"x":-0.07,"y":0.1},{"x":-0.058,"y":0.1},{"x":-0.046,"y":0.1},{"x":-0.034,"y":0.1},{"x":-0.022,"y":0.1},{"x":-0.01,"y":0.1},{"x":0.002,"y":0.1},{"x":0.014,"y":0.1},{"x":0.026,"y":0.1},{"x":0.038,"y":0.1},{"x":0.05,"y":0.1},{"x":0.062,"y":0.1},{"x":0.074,"y":0.1},{"x":0.086,"y":0.1},
{"x":-0.08,"y":0.075},{"x":-0.068,"y":0.075},{"x":-0.056,"y":0.075},{"x":-0.044,"y":0.075},{"x":-0.032,"y":0.075},{"x":-0.02,"y":0.075},{"x":-0.008,"y":0.075},{"x":0.004,"y":0.075},{"x":0.016,"y":0.075},{"x":0.028,"y":0.075},{"x":0.04,"y":0.075},{"x":0.052,"y":0.075},{"x":0.064,"y":0.075},{"x":0.076,"y":0.075},{"x":0.088,"y":0.075},
{"x":-0.074,"y":0.05},{"x":-0.062,"y":0.05},{"x":-0.05,"y":0.05},{"x":-0.038,"y":0.05},{"x":-0.026,"y":0.05},{"x":-0.014,"y":0.05},{"x":-0.002,"y":0.05},{"x":0.01,"y":0.05},{"x":0.022,"y":0.05},{"x":0.034,"y":0.05},{"x":0.046,"y":0.05},{"x":0.058,"y":0.05},{"x":0.07,"y":0.05},{"x":0.082,"y":0.05},{"x":0.094,"y":0.05},
{"x":-0.072,"y":0.025},{"x":-0.06,"y":0.025},{"x":-0.048,"y":0.025},{"x":-0.036,"y":0.025},{"x":-0.024,"y":0.025},{"x":-0.012,"y":0.025},{"x":0.0,"y":0.025},{"x":0.012,"y":0.025},{"x":0.024,"y":0.025},{"x":0.036,"y":0.025},{"x":0.048,"y":0.025},{"x":0.06,"y":0.025},{"x":0.072,"y":0.025},{"x":0.084,"y":0.025},{"x":0.096,"y":0.025},
{"x":-0.066,"y":0.0},{"x":-0.054,"y":0.0},{"x":-0.042,"y":0.0},{"x":-0.03,"y":0.0},{"x":-0.018,"y":0.0},{"x":-0.006,"y":0.0},{"x":0.006,"y":0.0},{"x":0.018,"y":0.0},{"x":0.03,"y":0.0},{"x":0.042,"y":0.0},{"x":0.054,"y":0.0},{"x":0.066,"y":0.0},{"x":0.078,"y":0.0},{"x":0.09,"y":0.0},{"x":0.102,"y":0.0},
{"x":-0.064,"y":-0.025},{"x":-0.052,"y":-0.025},{"x":-0.04,"y":-0.025},{"x":-0.028,"y":-0.025},{"x":-0.016,"y":-0.025},{"x":-0.004,"y":-0.025},{"x":0.008,"y":-0.025},{"x":0.02,"y":-0.025},{"x":0.032,"y":-0.025},{"x":0.044,"y":-0.025},{"x":0.056,"y":-0.025},{"x":0.068,"y":-0.025},{"x":0.08,"y":-0.025},{"x":0.092,"y":-0.025},{"x":0.104,"y":-0.025},
{"x":-0.058,"y":-0.05},{"x":-0.046,"y":-0.05},{"x":-0.034,"y":-0.05},{"x":-0.022,"y":-0.05},{"x":-0.01,"y":-0.05},{"x":0.002,"y":-0.05},{"x":0.014,"y":-0.05},{"x":0.026,"y":-0.05},{"x":0.038,"y":-0.05},{"x":0.05,"y":-0.05},{"x":0.062,"y":-0.05},{"x":0.074,"y":-0.05},{"x":0.086,"y":-0.05},{"x":0.098,"y":-0.05},
{"x":-0.05,"y":-0.075},{"x":-0.038,"y":-0.075},{"x":-0.026,"y":-0.075},{"x":-0.014,"y":-0.075},{"x":-0.002,"y":-0.075},{"x":0.01,"y":-0.075},{"x":0.022,"y":-0.075},{"x":0.034,"y":-0.075},{"x":0.046,"y":-0.075},{"x":0.058,"y":-0.075},{"x":0.07,"y":-0.075},{"x":0.082,"y":-0.075},{"x":0.094,"y":-0.075},
{"x":-0.04,"y":-0.1},{"x":-0.028,"y":-0.1},{"x":-0.016,"y":-0.1},{"x":-0.004,"y":-0.1},{"x":0.008,"y":-0.1},{"x":0.02,"y":-0.1},{"x":0.032,"y":-0.1},{"x":0.044,"y":-0.1},{"x":0.056,"y":-0.1},{"x":0.068,"y":-0.1},{"x":0.08,"y":-0.1},{"x":0.092,"y":-0.1},
{"x":-0.026,"y":-0.125},{"x":-0.014,"y":-0.125},{"x":-0.002,"y":-0.125},{"x":0.01,"y":-0.125},{"x":0.022,"y":-0.125},{"x":0.034,"y":-0.125},{"x":0.046,"y":-0.125},{"x":0.058,"y":-0.125},{"x":0.07,"y":-0.125},{"x":0.082,"y":-0.125},{"x":0.094,"y":-0.125},
{"x":-0.014,"y":-0.15},{"x":-0.002,"y":-0.15},{"x":0.01,"y":-0.15},{"x":0.022,"y":-0.15},{"x":0.034,"y":-0.15},{"x":0.046,"y":-0.15},{"x":0.058,"y":-0.15},{"x":0.07,"y":-0.15},{"x":0.082,"y":-0.15},
{"x":-0.067,"y":0.1625},{"x":-0.055,"y":0.1625},{"x":-0.043,"y":0.1625},{"x":-0.031,"y":0.1625},{"x":-0.019,"y":0.1625},{"x":-0.007,"y":0.1625},{"x":0.005,"y":0.1625},{"x":0.017,"y":0.1625},{"x":0.029,"y":0.1625},{"x":0.041,"y":0.1625},{"x":0.053,"y":0.1625},
{"x":-0.078,"y":0.1375},{"x":-0.066,"y":0.1375},{"x":-0.054,"y":0.1375},{"x":-0.042,"y":0.1375},{"x":-0.03,"y":0.1375},{"x":-0.018,"y":0.1375},{"x":-0.006,"y":0.1375},{"x":0.006,"y":0.1375},{"x":0.018,"y":0.1375},{"x":0.03,"y":0.1375},{"x":0.042,"y":0.1375},{"x":0.054,"y":0.1375},{"x":0.066,"y":0.1375},
{"x":-0.078,"y":0.1125},{"x":-0.066,"y":0.1125},{"x":-0.054,"y":0.1125},{"x":-0.042,"y":0.1125},{"x":-0.03,"y":0.1125},{"x":-0.018,"y":0.1125},{"x":-0.006,"y":0.1125},{"x":0.006,"y":0.1125},{"x":0.018,"y":0.1125},{"x":0.03,"y":0.1125},{"x":0.042,"y":0.1125},{"x":0.054,"y":0.1125},{"x":0.066,"y":0.1125},{"x":0.078,"y":0.1125},
{"x":-0.076,"y":0.0875},{"x":-0.064,"y":0.0875},{"x":-0.052,"y":0.0875},{"x":-0.04,"y":0.0875},{"x":-0.028,"y":0.0875},{"x":-0.016,"y":0.0875},{"x":-0.004,"y":0.0875},{"x":0.008,"y":0.0875},{"x":0.02,"y":0.0875},{"x":0.032,"y":0.0875},{"x":0.044,"y":0.0875},{"x":0.056,"y":0.0875},{"x":0.068,"y":0.0875},{"x":0.08,"y":0.0875},
{"x":-0.074,"y":0.0625},{"x":-0.062,"y":0.0625},{"x":-0.05,"y":0.0625},{"x":-0.038,"y":0.0625},{"x":-0.026,"y":0.0625},{"x":-0.014,"y":0.0625},{"x":-0.002,"y":0.0625},{"x":0.01,"y":0.0625},{"x":0.022,"y":0.0625},{"x":0.034,"y":0.0625},{"x":0.046,"y":0.0625},{"x":0.058,"y":0.0625},{"x":0.07,"y":0.0625},{"x":0.082,"y":0.0625},{"x":0.094,"y":0.0625},
{"x":-0.068,"y":0.0375},{"x":-0.056,"y":0.0375},{"x":-0.044,"y":0.0375},{"x":-0.032,"y":0.0375},{"x":-0.02,"y":0.0375},{"x":-0.008,"y":0.0375},{"x":0.004,"y":0.0375},{"x":0.016,"y":0.0375},{"x":0.028,"y":0.0375},{"x":0.04,"y":0.0375},{"x":0.052,"y":0.0375},{"x":0.064,"y":0.0375},{"x":0.076,"y":0.0375},{"x":0.088,"y":0.0375},{"x":0.1,"y":0.0375},
{"x":-0.06,"y":0.0125},{"x":-0.048,"y":0.0125},{"x":-0.036,"y":0.0125},{"x":-0.024,"y":0.0125},{"x":-0.012,"y":0.0125},{"x":0.0,"y":0.0125},{"x":0.012,"y":0.0125},{"x":0.024,"y":0.0125},{"x":0.036,"y":0.0125},{"x":0.048,"y":0.0125},{"x":0.06,"y":0.0125},{"x":0.072,"y":0.0125},{"x":0.084,"y":0.0125},{"x":0.096,"y":0.0125},
{"x":-0.059,"y":-0.0125},{"x":-0.047,"y":-0.0125},{"x":-0.035,"y":-0.0125},{"x":-0.023,"y":-0.0125},{"x":-0.011,"y":-0.0125},{"x":0.001,"y":-0.0125},{"x":0.013,"y":-0.0125},{"x":0.025,"y":-0.0125},{"x":0.037,"y":-0.0125},{"x":0.049,"y":-0.0125},{"x":0.061,"y":-0.0125},{"x":0.073,"y":-0.0125},{"x":0.085,"y":-0.0125},{"x":0.097,"y":-0.0125},
{"x":-0.052,"y":-0.0375},{"x":-0.04,"y":-0.0375},{"x":-0.028,"y":-0.0375},{"x":-0.016,"y":-0.0375},{"x":-0.004,"y":-0.0375},{"x":0.008,"y":-0.0375},{"x":0.02,"y":-0.0375},{"x":0.032,"y":-0.0375},{"x":0.044,"y":-0.0375},{"x":0.056,"y":-0.0375},{"x":0.068,"y":-0.0375},{"x":0.08,"y":-0.0375},{"x":0.092,"y":-0.0375},
{"x":-0.054,"y":-0.0625},{"x":-0.042,"y":-0.0625},{"x":-0.03,"y":-0.0625},{"x":-0.018,"y":-0.0625},{"x":-0.006,"y":-0.0625},{"x":0.006,"y":-0.0625},{"x":0.018,"y":-0.0625},{"x":0.03,"y":-0.0625},{"x":0.042,"y":-0.0625},{"x":0.054,"y":-0.0625},{"x":0.066,"y":-0.0625},{"x":0.078,"y":-0.0625},{"x":0.09,"y":-0.0625},
{"x":-0.044,"y":-0.0875},{"x":-0.032,"y":-0.0875},{"x":-0.02,"y":-0.0875},{"x":-0.008,"y":-0.0875},{"x":0.004,"y":-0.0875},{"x":0.016,"y":-0.0875},{"x":0.028,"y":-0.0875},{"x":0.04,"y":-0.0875},{"x":0.052,"y":-0.0875},{"x":0.064,"y":-0.0875},{"x":0.076,"y":-0.0875},{"x":0.088,"y":-0.0875},
{"x":-0.034,"y":-0.1125},{"x":-0.022,"y":-0.1125},{"x":-0.01,"y":-0.1125},{"x":0.002,"y":-0.1125},{"x":0.014,"y":-0.1125},{"x":0.026,"y":-0.1125},{"x":0.038,"y":-0.1125},{"x":0.05,"y":-0.1125},{"x":0.062,"y":-0.1125},{"x":0.074,"y":-0.1125},{"x":0.086,"y":-0.1125},
{"x":-0.02,"y":-0.1375},{"x":-0.008,"y":-0.1375},{"x":0.004,"y":-0.1375},{"x":0.016,"y":-0.1375},{"x":0.028,"y":-0.1375},{"x":0.04,"y":-0.1375},{"x":0.052,"y":-0.1375},{"x":0.064,"y":-0.1375},{"x":0.076,"y":-0.1375},{"x":0.088,"y":-0.1375},
{"x":-0.085,"y":0.172},{"x":-0.105,"y":0.178},{"x":-0.13,"y":0.171},{"x":-0.155,"y":0.177},{"x":0.065,"y":0.178},{"x":0.085,"y":0.172},{"x":0.11,"y":0.177},{"x":0.14,"y":0.171},{"x":0.17,"y":0.176},
{"x":-0.095,"y":0.147},{"x":-0.118,"y":0.153},{"x":-0.14,"y":0.148},{"x":-0.165,"y":0.154},{"x":0.078,"y":0.153},{"x":0.1,"y":0.147},{"x":0.125,"y":0.152},{"x":0.15,"y":0.146},{"x":0.18,"y":0.153},{"x":0.2,"y":0.148},
{"x":-0.1,"y":0.128},{"x":-0.12,"y":0.122},{"x":-0.145,"y":0.127},{"x":-0.17,"y":0.121},{"x":0.09,"y":0.122},{"x":0.11,"y":0.128},{"x":0.135,"y":0.123},{"x":0.16,"y":0.129},{"x":0.185,"y":0.122},
{"x":-0.1,"y":0.097},{"x":-0.125,"y":0.103},{"x":-0.15,"y":0.098},{"x":0.1,"y":0.103},{"x":0.12,"y":0.097},{"x":0.145,"y":0.102},{"x":0.17,"y":0.096},{"x":0.195,"y":0.103},
{"x":-0.097,"y":0.078},{"x":-0.12,"y":0.072},{"x":-0.145,"y":0.077},{"x":-0.17,"y":0.071},{"x":0.104,"y":0.072},{"x":0.125,"y":0.078},{"x":0.15,"y":0.073},{"x":0.175,"y":0.079},{"x":0.2,"y":0.072},
{"x":-0.094,"y":0.047},{"x":-0.115,"y":0.053},{"x":-0.14,"y":0.048},{"x":-0.163,"y":0.054},{"x":0.108,"y":0.053},{"x":0.13,"y":0.047},{"x":0.155,"y":0.052},{"x":0.18,"y":0.046},{"x":0.205,"y":0.053},
{"x":-0.09,"y":0.028},{"x":-0.112,"y":0.022},{"x":-0.135,"y":0.027},{"x":-0.16,"y":0.021},{"x":0.111,"y":0.022},{"x":0.132,"y":0.028},{"x":0.155,"y":0.023},{"x":0.18,"y":0.029},
{"x":-0.085,"y":-0.003},{"x":-0.108,"y":0.003},{"x":-0.13,"y":-0.002},{"x":-0.155,"y":0.004},{"x":0.115,"y":0.003},{"x":0.138,"y":-0.003},{"x":0.16,"y":0.002},{"x":0.185,"y":-0.004},
{"x":-0.082,"y":-0.022},{"x":-0.104,"y":-0.028},{"x":-0.126,"y":-0.023},{"x":-0.15,"y":-0.029},{"x":0.12,"y":-0.028},{"x":0.14,"y":-0.022},{"x":0.165,"y":-0.027},{"x":0.19,"y":-0.021},
{"x":-0.074,"y":-0.053},{"x":-0.095,"y":-0.047},{"x":-0.12,"y":-0.052},{"x":-0.145,"y":-0.046},{"x":0.118,"y":-0.047},{"x":0.14,"y":-0.053},{"x":0.16,"y":-0.048},
{"x":-0.065,"y":-0.072},{"x":-0.088,"y":-0.078},{"x":-0.11,"y":-0.073},{"x":-0.135,"y":-0.079},{"x":0.117,"y":-0.078},{"x":0.137,"y":-0.072},{"x":0.158,"y":-0.077},
{"x":-0.056,"y":-0.103},{"x":-0.078,"y":-0.097},{"x":-0.1,"y":-0.102},{"x":-0.125,"y":-0.096},{"x":0.116,"y":-0.097},{"x":0.135,"y":-0.103},{"x":0.155,"y":-0.098},
{"x":-0.042,"y":-0.122},{"x":-0.065,"y":-0.128},{"x":-0.09,"y":-0.123},{"x":-0.115,"y":-0.129},{"x":0.11,"y":-0.128},{"x":0.13,"y":-0.122},{"x":0.15,"y":-0.127},
{"x":-0.03,"y":-0.153},{"x":-0.052,"y":-0.147},{"x":-0.075,"y":-0.152},{"x":-0.1,"y":-0.146},{"x":0.103,"y":-0.147},{"x":0.12,"y":-0.153},{"x":0.14,"y":-0.148},
{"x":-0.082,"y":0.162},{"x":-0.1,"y":0.164},{"x":-0.12,"y":0.161},{"x":-0.142,"y":0.163},{"x":0.06,"y":0.162},{"x":0.08,"y":0.164},{"x":0.1,"y":0.161},{"x":0.125,"y":0.163},{"x":0.155,"y":0.161},
{"x":-0.09,"y":0.138},{"x":-0.11,"y":0.136},{"x":-0.13,"y":0.139},{"x":-0.152,"y":0.137},{"x":0.075,"y":0.138},{"x":0.093,"y":0.136},{"x":0.113,"y":0.139},{"x":0.138,"y":0.137},{"x":0.165,"y":0.138},
{"x":-0.094,"y":0.112},{"x":-0.112,"y":0.114},{"x":-0.132,"y":0.111},{"x":-0.158,"y":0.113},{"x":0.084,"y":0.112},{"x":0.1,"y":0.114},{"x":0.122,"y":0.111},{"x":0.148,"y":0.113},{"x":0.172,"y":0.112},
{"x":-0.092,"y":0.088},{"x":-0.112,"y":0.086},{"x":-0.135,"y":0.089},{"x":-0.16,"y":0.087},{"x":0.095,"y":0.088},{"x":0.113,"y":0.086},{"x":0.133,"y":0.089},{"x":0.158,"y":0.087},{"x":0.183,"y":0.088},
{"x":-0.088,"y":0.062},{"x":-0.108,"y":0.064},{"x":-0.13,"y":0.061},{"x":-0.152,"y":0.063},{"x":0.098,"y":0.062},{"x":0.116,"y":0.064},{"x":0.138,"y":0.061},{"x":0.162,"y":0.063},{"x":0.188,"y":0.062},
{"x":-0.085,"y":0.038},{"x":-0.105,"y":0.036},{"x":-0.126,"y":0.039},{"x":-0.15,"y":0.037},{"x":0.104,"y":0.038},{"x":0.122,"y":0.036},{"x":0.143,"y":0.039},{"x":0.168,"y":0.037},{"x":0.192,"y":0.038},
{"x":-0.08,"y":0.012},{"x":-0.1,"y":0.014},{"x":-0.12,"y":0.011},{"x":-0.145,"y":0.013},{"x":0.108,"y":0.012},{"x":0.126,"y":0.014},{"x":0.147,"y":0.011},{"x":0.17,"y":0.013},
{"x":-0.076,"y":-0.012},{"x":-0.096,"y":-0.014},{"x":-0.116,"y":-0.011},{"x":-0.14,"y":-0.013},{"x":0.112,"y":-0.012},{"x":0.13,"y":-0.014},{"x":0.152,"y":-0.011},{"x":0.176,"y":-0.013},
{"x":-0.07,"y":-0.038},{"x":-0.09,"y":-0.036},{"x":-0.11,"y":-0.039},{"x":-0.132,"y":-0.037},{"x":0.11,"y":-0.038},{"x":0.128,"y":-0.036},{"x":0.15,"y":-0.039},{"x":0.17,"y":-0.037},
{"x":-0.062,"y":-0.062},{"x":-0.082,"y":-0.064},{"x":-0.1,"y":-0.061},{"x":-0.122,"y":-0.063},{"x":0.106,"y":-0.062},{"x":0.126,"y":-0.064},{"x":0.148,"y":-0.061},
{"x":-0.052,"y":-0.088},{"x":-0.07,"y":-0.086},{"x":-0.09,"y":-0.089},{"x":-0.112,"y":-0.087},{"x":0.104,"y":-0.088},{"x":0.124,"y":-0.086},{"x":0.145,"y":-0.089},
{"x":-0.038,"y":-0.112},{"x":-0.058,"y":-0.114},{"x":-0.078,"y":-0.111},{"x":-0.1,"y":-0.113},{"x":0.104,"y":-0.112},{"x":0.124,"y":-0.114},{"x":0.145,"y":-0.111},
{"x":-0.024,"y":-0.138},{"x":-0.044,"y":-0.136},{"x":-0.064,"y":-0.139},{"x":-0.088,"y":-0.137},{"x":0.094,"y":-0.138},{"x":0.112,"y":-0.136},{"x":0.13,"y":-0.139},
{"x":-0.05,"y":-0.162},{"x":-0.03,"y":-0.164},{"x":-0.01,"y":-0.161},{"x":0.01,"y":-0.163},{"x":0.03,"y":-0.162},{"x":0.05,"y":-0.164},{"x":0.07,"y":-0.161},{"x":0.09,"y":-0.163},{"x":0.11,"y":-0.162},
{"x":-0.04,"y":-0.188},{"x":-0.015,"y":-0.186},{"x":0.015,"y":-0.189},{"x":0.04,"y":-0.187},{"x":0.065,"y":-0.188},{"x":0.09,"y":-0.186},{"x":0.11,"y":-0.189},
{"x":-0.06,"y":-0.172},{"x":-0.04,"y":-0.178},{"x":-0.02,"y":-0.171},{"x":0.0,"y":-0.177},{"x":0.02,"y":-0.172},{"x":0.04,"y":-0.178},{"x":0.06,"y":-0.173},{"x":0.08,"y":-0.179},{"x":0.1,"y":-0.172},{"x":0.12,"y":-0.178},
{"x":-0.05,"y":-0.203},{"x":-0.025,"y":-0.197},{"x":0.0,"y":-0.204},{"x":0.03,"y":-0.198},{"x":0.05,"y":-0.203},{"x":0.075,"y":-0.197},{"x":0.1,"y":-0.202},{"x":0.12,"y":-0.196},
{"x":-0.03,"y":-0.228},{"x":0.0,"y":-0.222},{"x":0.035,"y":-0.229},{"x":0.06,"y":-0.223},{"x":0.09,"y":-0.228},{"x":0.115,"y":-0.222},
{"x":-0.015,"y":-0.252},{"x":0.02,"y":-0.247},{"x":0.045,"y":-0.254},{"x":0.1,"y":-0.249}
 ]
},
"hconcat": [
 {
  "width": 450, "height": 314,
  "layer": [
   {"data": {"values": [{}]}, "mark": {"type": "rect", "fillOpacity": 0, "stroke": "#e8e8e8", "strokeWidth": 1},
    "encoding": {"x": {"datum": -0.5294, "type": "quantitative"}, "x2": {"datum": 0.455}, "y": {"datum": 0.729, "type": "quantitative"}, "y2": {"datum": -0.78}}},
   {"data": {"name": "left"}, "mark": {"type": "circle", "color": "#000000", "opacity": 1, "size": 42},
    "encoding": {
     "x": {"field": "x", "type": "quantitative", "scale": {"domain": [-0.4055, 0.411], "nice": false, "zero": false},
       "axis": {"title": null, "values": [-0.4, -0.3, -0.2, -0.1, 0, 0.1, 0.2, 0.3, 0.4], "labelExpr": "replace(format(datum.value, '.1f'), '\u2212', '-')"}},
     "y": {"field": "y", "type": "quantitative", "scale": {"domain": [-0.6503, 0.658], "nice": false, "zero": false},
       "axis": {"title": "dz_2015", "titlePadding": 10, "values": [-0.5, -0.25, 0, 0.25, 0.5], "labelExpr": "replace(format(datum.value, '.2f'), '\u2212', '-')"}}
    }},
   {"data": {"name": "fitL"}, "mark": {"type": "line", "color": "#1a1a1a", "strokeWidth": 1.6},
    "encoding": {"x": {"field": "x", "type": "quantitative"}, "y": {"field": "y", "type": "quantitative"}}},
   {"data": {"values": [{}]}, "mark": {"type": "text", "text": "r = 0.33", "font": "Liberation Sans", "fontWeight": "bold", "fontSize": 25, "align": "left", "baseline": "alphabetic", "color": "#231f20"},
    "encoding": {"x": {"datum": -0.36, "type": "quantitative"}, "y": {"datum": 0.421, "type": "quantitative"}}},
   {"data": {"values": [{}]}, "mark": {"type": "rect", "fill": "#f2ec18", "stroke": "#5e8a35", "strokeWidth": 1.5},
    "encoding": {"x": {"datum": -0.5857, "type": "quantitative"}, "x2": {"datum": -0.4967}, "y": {"datum": 0.65, "type": "quantitative"}, "y2": {"datum": -0.611}}},
   {"data": {"values": [{}]}, "mark": {"type": "text", "text": "Change from 2015->2016", "font": "Lato", "fontSize": 21, "angle": 270, "align": "center", "baseline": "middle", "color": "#1a1a1a"},
    "encoding": {"x": {"datum": -0.541, "type": "quantitative"}, "y": {"datum": 0.019, "type": "quantitative"}}},
   {"data": {"values": [{}]}, "mark": {"type": "rect", "fill": "#f2ec18", "stroke": "#5e8a35", "strokeWidth": 1.5},
    "encoding": {"x": {"datum": -0.3013, "type": "quantitative"}, "x2": {"datum": 0.2463}, "y": {"datum": -0.736, "type": "quantitative"}, "y2": {"datum": -0.954}}},
   {"data": {"values": [{}]}, "mark": {"type": "text", "text": "Change from 2010->2011", "font": "Lato", "fontSize": 21, "align": "center", "baseline": "middle", "color": "#1a1a1a"},
    "encoding": {"x": {"datum": -0.0274, "type": "quantitative"}, "y": {"datum": -0.842, "type": "quantitative"}}}
  ]
 },
 {
  "width": 469, "height": 314,
  "layer": [
   {"data": {"values": [{}]}, "mark": {"type": "rect", "fillOpacity": 0, "stroke": "#e8e8e8", "strokeWidth": 1},
    "encoding": {"x": {"datum": -0.498, "type": "quantitative"}, "x2": {"datum": 0.47}, "y": {"datum": 0.729, "type": "quantitative"}, "y2": {"datum": -0.78}}},
   {"data": {"name": "right"}, "mark": {"type": "circle", "color": "#000000", "opacity": 1, "size": 42},
    "encoding": {
     "x": {"field": "x", "type": "quantitative", "scale": {"domain": [-0.4123, 0.4123], "nice": false, "zero": false},
       "axis": {"title": null, "values": [-0.4, -0.3, -0.2, -0.1, 0, 0.1, 0.2, 0.3, 0.4], "labelExpr": "replace(format(datum.value, '.1f'), '\u2212', '-')"}},
     "y": {"field": "y", "type": "quantitative", "scale": {"domain": [-0.6503, 0.658], "nice": false, "zero": false},
       "axis": {"title": null, "values": [-0.5, -0.25, 0, 0.25, 0.5], "labelExpr": "replace(format(datum.value, '.2f'), '\u2212', '-')"}}
    }},
   {"data": {"name": "fitR"}, "mark": {"type": "line", "color": "#1a1a1a", "strokeWidth": 1.6},
    "encoding": {"x": {"field": "x", "type": "quantitative"}, "y": {"field": "y", "type": "quantitative"}}},
   {"data": {"values": [{}]}, "mark": {"type": "text", "text": "r = -0.24", "font": "Liberation Sans", "fontWeight": "bold", "fontSize": 25, "align": "left", "baseline": "alphabetic", "color": "#231f20"},
    "encoding": {"x": {"datum": 0.1887, "type": "quantitative"}, "y": {"datum": 0.421, "type": "quantitative"}}},
   {"data": {"values": [{}]}, "mark": {"type": "rect", "fill": "#22b14c", "stroke": "#4a7a30", "strokeWidth": 1.5},
    "encoding": {"x": {"datum": -0.5744, "type": "quantitative"}, "x2": {"datum": -0.487}, "y": {"datum": 0.65, "type": "quantitative"}, "y2": {"datum": -0.611}}},
   {"data": {"values": [{}]}, "mark": {"type": "text", "text": "Change from 2016->2017", "font": "Lato", "fontSize": 21, "angle": 270, "align": "center", "baseline": "middle", "color": "#1a1a1a"},
    "encoding": {"x": {"datum": -0.5309, "type": "quantitative"}, "y": {"datum": 0.019, "type": "quantitative"}}},
   {"data": {"values": [{}]}, "mark": {"type": "rect", "fill": "#f2ec18", "stroke": "#5e8a35", "strokeWidth": 1.5},
    "encoding": {"x": {"datum": -0.286, "type": "quantitative"}, "x2": {"datum": 0.2456}, "y": {"datum": -0.736, "type": "quantitative"}, "y2": {"datum": -0.954}}},
   {"data": {"values": [{}]}, "mark": {"type": "text", "text": "Change from 2010->2011", "font": "Lato", "fontSize": 21, "align": "center", "baseline": "middle", "color": "#1a1a1a"},
    "encoding": {"x": {"datum": -0.0202, "type": "quantitative"}, "y": {"datum": -0.842, "type": "quantitative"}}}
  ]
 }
]
}
